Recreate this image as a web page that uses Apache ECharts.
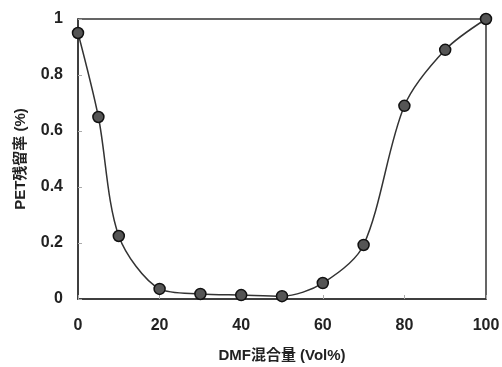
<!DOCTYPE html>
<html><head><meta charset="utf-8">
<script src="https://cdn.jsdelivr.net/npm/echarts@6/dist/echarts.min.js"></script>
<style>html,body{margin:0;padding:0;background:#fff}#c{width:502px;height:367px}</style>
</head><body><div id="c"></div>
<script>
const dmf = [0, 5, 10, 20, 30, 40, 50, 60, 70, 80, 90, 100];
const petResidual = [0.95, 0.65, 0.225, 0.036, 0.018, 0.014, 0.01, 0.057, 0.193, 0.69, 0.89, 1.0];
const xTicks = [0, 20, 40, 60, 80, 100];
const yTicks = [0, 0.2, 0.4, 0.6, 0.8, 1];
const xName = 'DMF混合量 (Vol%)';
const yName = 'PET残留率 (%)';

const chart = echarts.init(document.getElementById('c'));
const font = {fontFamily: '"Liberation Sans", "Noto Sans CJK JP", sans-serif', fontWeight: 'bold', color: '#222'};
chart.setOption({
  animation: false,
  backgroundColor: '#fff',
  grid: {left: 78, right: 16, top: 19, bottom: 68, outerBoundsMode: 'none', containLabel: false,
         show: true, borderColor: '#333', borderWidth: 1.5},
  xAxis: {
    type: 'value', min: 0, max: 100, interval: 20,
    name: xName, nameLocation: 'middle', nameGap: 49,
    nameTextStyle: Object.assign({fontSize: 15}, font),
    axisLine: {show: true, lineStyle: {color: '#333', width: 1.5}},
    axisTick: {show: true, inside: true, length: 4, lineStyle: {color: '#aaa'}},
    axisLabel: Object.assign({fontSize: 16, margin: 19, formatter: v => xTicks.includes(v) ? String(v) : ''}, font),
    splitLine: {show: false}
  },
  yAxis: {
    type: 'value', min: 0, max: 1, interval: 0.2,
    name: yName, nameLocation: 'middle', nameGap: 50,
    nameTextStyle: Object.assign({fontSize: 15}, font),
    axisLine: {show: true, lineStyle: {color: '#333', width: 1.5}},
    axisTick: {show: true, inside: true, length: 4, lineStyle: {color: '#aaa'}},
    axisLabel: Object.assign({fontSize: 16, margin: 15, formatter: v => {
      const t = yTicks.find(k => Math.abs(k - v) < 1e-6);
      return t === undefined ? '' : String(t);
    }}, font),
    splitLine: {show: false}
  },
  series: [{
    type: 'line',
    data: dmf.map((x, i) => [x, petResidual[i]]),
    smooth: 0.3,
    symbol: 'circle', symbolSize: 11,
    lineStyle: {color: '#333', width: 1.5},
    itemStyle: {color: '#555', borderColor: '#111', borderWidth: 1.5}
  }]
});
</script></body></html>
